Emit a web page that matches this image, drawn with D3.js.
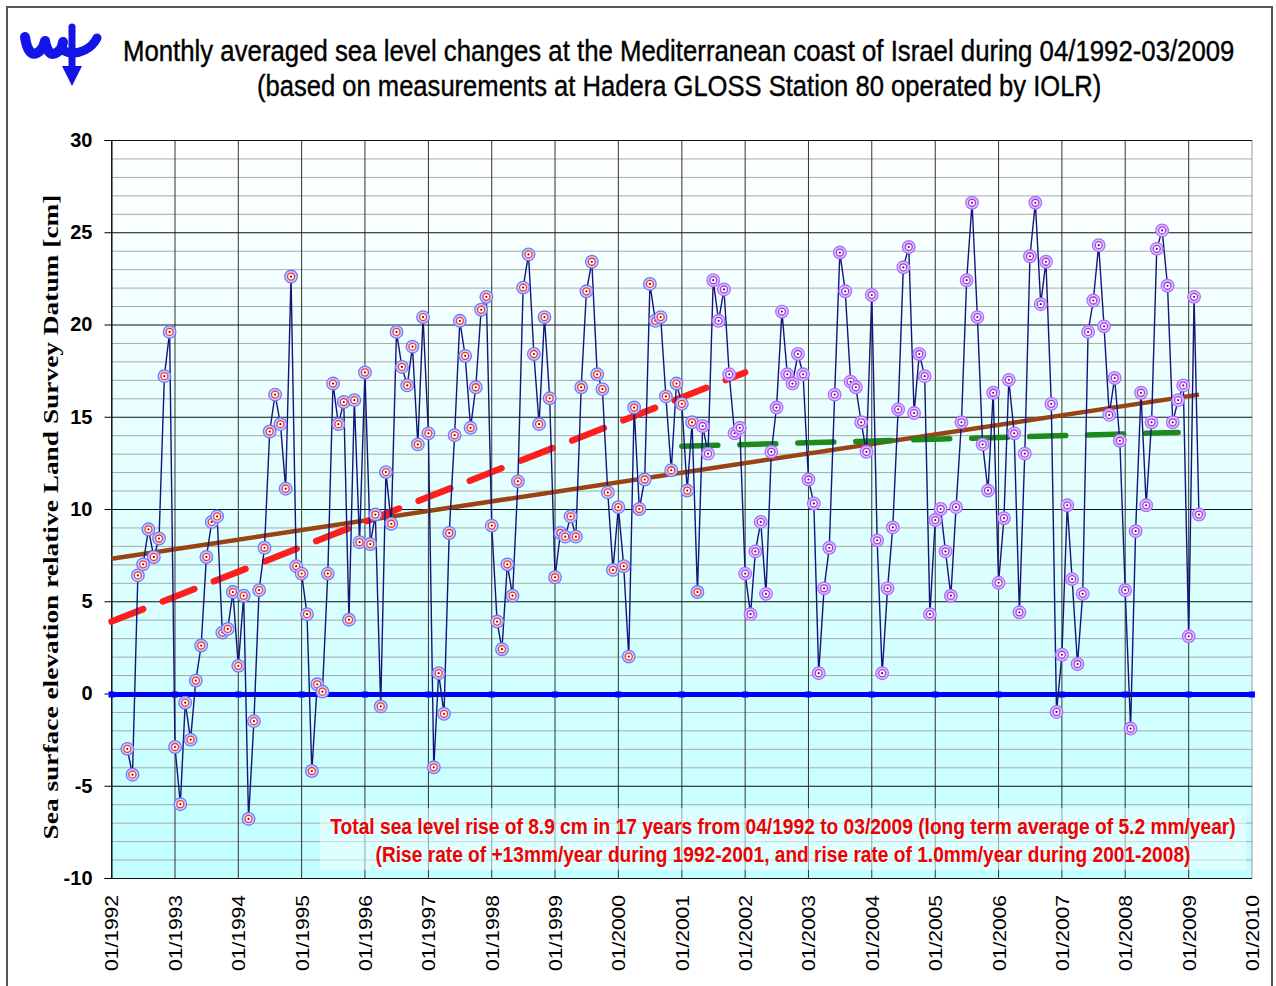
<!DOCTYPE html>
<html lang="en">
<head>
<meta charset="UTF-8">
<title>Hadera sea level</title>
<script src="https://d3js.org/d3.v7.min.js"></script>
<style>
    body { margin: 0; background: #fff; }
    svg { display: block; }
</style>
</head>
<body>
<svg width="1276" height="986"></svg>
<script>
    // monthly averaged sea level [cm], 04/1992 .. 03/2009
    const firstMonth = [1992, 3];   // year, month index (April)
    const seaLevel = [
        -3.0, -4.4, 6.4, 7.0, 8.9, 7.4, 8.4, 17.2, 19.6,
        -2.9, -6.0, -0.5, -2.5, 0.7, 2.6, 7.4, 9.3, 9.6, 3.3, 3.5, 5.5,
        1.5, 5.3, -6.8, -1.5, 5.6, 7.9, 14.2, 16.2, 14.6, 11.1, 22.6, 6.9,
        6.5, 4.3, -4.2, 0.5, 0.1, 6.5, 16.8, 14.6, 15.8, 4.0, 15.9, 8.2,
        17.4, 8.1, 9.7, -0.7, 12.0, 9.2, 19.6, 17.7, 16.7, 18.8, 13.5, 20.4,
        14.1, -4.0, 1.1, -1.1, 8.7, 14.0, 20.2, 18.3, 14.4, 16.6, 20.8, 21.5,
        9.1, 3.9, 2.4, 7.0, 5.3, 11.5, 22.0, 23.8, 18.4, 14.6, 20.4, 16.0,
        6.3, 8.7, 8.5, 9.6, 8.5, 16.6, 21.8, 23.4, 17.3, 16.5, 10.9, 6.7,
        10.1, 6.9, 2.0, 15.5, 10.0, 11.6, 22.2, 20.2, 20.4, 16.1, 12.1, 16.8,
        15.7, 11.0, 14.7, 5.5, 14.5, 13.0, 22.4, 20.2, 21.9, 17.3, 14.1, 14.4,
        6.5, 4.3, 7.7, 9.3, 5.4, 13.1, 15.5, 20.7, 17.3, 16.8, 18.4, 17.3,
        11.6, 10.3, 1.1, 5.7, 7.9, 16.2, 23.9, 21.8, 16.9, 16.6, 14.7, 13.1,
        21.6, 8.3, 1.1, 5.7, 9.0, 15.4, 23.1, 24.2, 15.2, 18.4, 17.2, 4.3,
        9.4, 10.0, 7.7, 5.3, 10.1, 14.7, 22.4, 26.6, 20.4, 13.5, 11.0, 16.3,
        6.0, 9.5, 17.0, 14.1, 4.4, 13.0, 23.7, 26.6, 21.1, 23.4, 15.7, -1.0,
        2.1, 10.2, 6.2, 1.6, 5.4, 19.6, 21.3, 24.3, 19.9, 15.1, 17.1, 13.7,
        5.6, -1.9, 8.8, 16.3, 10.2, 14.7, 24.1, 25.1, 22.1, 14.7, 15.9, 16.7,
        3.1, 21.5, 9.7
    ];

    // trend lines: [year, month index, value]
    const longTrend = [[1992, 0, 7.3], [2009, 2, 16.2]];
    const trend9201 = [[1992, 0, 3.9], [2002, 0, 17.4]];
    const trend0108 = [[2001, 0, 13.4], [2008, 10, 14.15]];

    const yearTicks = d3.range(1992, 2011);
    const yTicks = [-10, -5, 0, 5, 10, 15, 20, 25, 30];
    const yMinor = d3.range(-10, 31, 1);

    const svg = d3.select('svg');

    const x = d3.scaleTime()
        .domain([new Date(1992, 0, 1), new Date(2010, 0, 1)])
        .range([111.5, 1252]);
    const y = d3.scaleLinear().domain([-10, 30]).range([878, 140]);

    const points = seaLevel.map((v, i) => ({
        date: new Date(firstMonth[0], firstMonth[1] + i, 1), value: v
    }));
    const toPts = arr => arr.map(d => ({ date: new Date(d[0], d[1], 1), value: d[2] }));

    // squeeze a text horizontally so it fills the given width
    function fitText(sel, tx, ty, width) {
        const w = sel.node().getComputedTextLength();
        sel.attr('transform', `translate(${tx},${ty}) scale(${width / w},1)`);
    }

    // outer frame
    svg.append('rect')
        .attr('x', 7).attr('y', 7).attr('width', 1265).attr('height', 995)
        .attr('fill', 'none').attr('stroke', '#555').attr('stroke-width', 2);

    // logo
    const blue = '#1414e6';
    const logo = svg.append('g').attr('fill', 'none').attr('stroke', blue)
        .attr('stroke-linecap', 'round').attr('stroke-linejoin', 'round');
    logo.append('path')
        .attr('d', 'M25,37 Q28,57 37,53 Q43,50 45,41 Q48,57 56,53 Q62,50 63,42')
        .attr('stroke-width', 10);
    logo.append('path')
        .attr('d', 'M62,50 Q73,56 85,50 Q93,46 97,38')
        .attr('stroke-width', 9);
    logo.append('line')
        .attr('x1', 72).attr('y1', 27).attr('x2', 72).attr('y2', 70)
        .attr('stroke-width', 7);
    svg.append('path')
        .attr('d', 'M62,66 L82,66 L72,86 Z')
        .attr('fill', blue);

    // title
    const narrow = "'Liberation Sans Narrow', 'Arial Narrow', 'Liberation Sans', Arial, sans-serif";
    const t1 = svg.append('text')
        .attr('font-family', narrow).attr('font-size', 29)
        .attr('stroke', '#000').attr('stroke-width', 0.4)
        .text('Monthly averaged sea level changes at the Mediterranean coast of Israel during 04/1992-03/2009');
    fitText(t1, 123, 61, 1112);
    const t2 = svg.append('text')
        .attr('font-family', narrow).attr('font-size', 29)
        .attr('stroke', '#000').attr('stroke-width', 0.4)
        .text('(based on measurements at Hadera GLOSS Station 80 operated by IOLR)');
    fitText(t2, 257, 96, 845);

    // plot background
    const grad = svg.append('defs').append('linearGradient')
        .attr('id', 'bg').attr('x1', 0).attr('y1', 0).attr('x2', 0).attr('y2', 1);
    grad.append('stop').attr('offset', '0%').attr('stop-color', '#ffffff');
    grad.append('stop').attr('offset', '22%').attr('stop-color', '#f2ffff');
    grad.append('stop').attr('offset', '100%').attr('stop-color', '#c2ffff');
    svg.append('rect')
        .attr('x', x.range()[0]).attr('y', y(30))
        .attr('width', x.range()[1] - x.range()[0]).attr('height', y(-10) - y(30))
        .attr('fill', 'url(#bg)');

    // grid
    const grid = svg.append('g');
    grid.selectAll('.minor').data(yMinor.filter(v => v % 5 !== 0)).join('line')
        .attr('x1', x.range()[0]).attr('x2', x.range()[1])
        .attr('y1', d => y(d) + 0.5).attr('y2', d => y(d) + 0.5)
        .attr('stroke', '#a8a8a8').attr('stroke-width', 1);
    grid.selectAll('.vert').data(yearTicks).join('line')
        .attr('x1', d => x(new Date(d, 0, 1))).attr('x2', d => x(new Date(d, 0, 1)))
        .attr('y1', y(30)).attr('y2', y(-10))
        .attr('stroke', d => d === 2010 ? '#999' : '#333').attr('stroke-width', 1);
    grid.selectAll('.major').data(yTicks).join('line')
        .attr('x1', x.range()[0]).attr('x2', x.range()[1])
        .attr('y1', d => y(d) + 0.5).attr('y2', d => y(d) + 0.5)
        .attr('stroke', '#111').attr('stroke-width', 1);

    // y axis
    const yAxis = svg.append('g')
        .attr('transform', `translate(${x.range()[0]},0)`)
        .call(d3.axisLeft(y).tickValues(yTicks).tickFormat(d => String(d))
            .tickSize(7).tickPadding(12));
    yAxis.select('.domain').attr('stroke', '#000');
    yAxis.selectAll('line').attr('stroke', '#000');
    yAxis.selectAll('text')
        .attr('font-family', 'Liberation Sans, Arial, sans-serif')
        .attr('font-size', 20).attr('font-weight', 'bold').attr('fill', '#000');

    const yTitle = svg.append('text')
        .attr('text-anchor', 'middle')
        .attr('font-family', "'Liberation Serif', 'Times New Roman', serif")
        .attr('font-size', 20).attr('font-weight', 'bold')
        .text('Sea surface elevation relative Land Survey Datum  [cm]');
    const yw = yTitle.node().getComputedTextLength();
    yTitle.attr('transform', `translate(58,517) rotate(-90) scale(${645 / yw},1)`);

    // x axis labels
    const xAxis = svg.append('g')
        .attr('transform', 'translate(0,895)')
        .call(d3.axisBottom(x)
            .tickValues(yearTicks.map(d => new Date(d, 0, 1)))
            .tickFormat(d3.timeFormat('%m/%Y'))
            .tickSize(0));
    xAxis.select('.domain').remove();
    xAxis.selectAll('text')
        .attr('transform', 'rotate(-90)')
        .attr('x', 0).attr('y', 0).attr('dx', 0).attr('dy', '0.36em')
        .attr('text-anchor', 'end')
        .attr('font-family', 'Liberation Sans, Arial, sans-serif')
        .attr('font-size', 18).attr('fill', '#000')
        .attr('textLength', 76).attr('lengthAdjust', 'spacingAndGlyphs');

    // zero line with yearly markers
    svg.append('line')
        .attr('x1', x.range()[0]).attr('x2', x.range()[1])
        .attr('y1', y(0) + 1).attr('y2', y(0) + 1)
        .attr('stroke', '#0000ff').attr('stroke-width', 5);
    svg.selectAll('.zm').data(yearTicks).join('rect')
        .attr('x', d => x(new Date(d, 0, 1)) - 3).attr('y', y(0) - 2)
        .attr('width', 6).attr('height', 6).attr('fill', '#0000ff');

    // trend lines
    const line = d3.line().x(d => x(d.date)).y(d => y(d.value));
    svg.append('path').datum(toPts(longTrend))
        .attr('d', line).attr('fill', 'none')
        .attr('stroke', '#9a4414').attr('stroke-width', 4.5);
    svg.append('path').datum(toPts(trend9201))
        .attr('d', line).attr('fill', 'none')
        .attr('stroke', '#ff1e1e').attr('stroke-width', 6.5)
        .attr('stroke-dasharray', '34,21').attr('stroke-linecap', 'round');
    svg.append('path').datum(toPts(trend0108))
        .attr('d', line).attr('fill', 'none')
        .attr('stroke', '#1c8a1c').attr('stroke-width', 5.5)
        .attr('stroke-dasharray', '36,22').attr('stroke-linecap', 'round');

    // data series
    svg.append('path').datum(points)
        .attr('d', line).attr('fill', 'none')
        .attr('stroke', '#14147a').attr('stroke-width', 1.4);

    const late = d => d.date >= new Date(2001, 4, 1);
    const mk = svg.append('g').selectAll('g').data(points).join('g')
        .attr('transform', d => `translate(${x(d.date)},${y(d.value)})`);
    mk.append('circle').attr('r', 6.3)
        .attr('fill', d => late(d) ? '#e0c4ff' : '#c8d0ff')
        .attr('stroke', d => late(d) ? '#a870ff' : '#6c7cff').attr('stroke-width', 1.3);
    mk.append('circle').attr('r', 3.5)
        .attr('fill', '#fff')
        .attr('stroke', d => late(d) ? '#a838dc' : '#ff3030').attr('stroke-width', 1.3);
    mk.append('circle').attr('r', 1.1)
        .attr('fill', d => late(d) ? '#4a1480' : '#801010');

    // note box
    svg.append('rect')
        .attr('x', 320).attr('y', 808).attr('width', 926).attr('height', 62)
        .attr('fill', '#f0ffff').attr('fill-opacity', 0.55);
    const noteLines = [
        'Total sea level rise of 8.9 cm in 17 years from 04/1992 to 03/2009 (long term average of 5.2 mm/year)',
        '(Rise rate of +13mm/year during 1992-2001, and rise rate of 1.0mm/year during 2001-2008)'
    ];
    const noteLen = [906, 815];
    svg.selectAll('.note').data(noteLines).join('text')
        .attr('text-anchor', 'middle')
        .attr('font-family', narrow).attr('font-size', 22).attr('font-weight', 'bold')
        .attr('fill', '#f00000')
        .text(d => d)
        .each(function (d, i) { fitText(d3.select(this), 783, 834 + i * 28, noteLen[i]); });
</script>
</body>
</html>
